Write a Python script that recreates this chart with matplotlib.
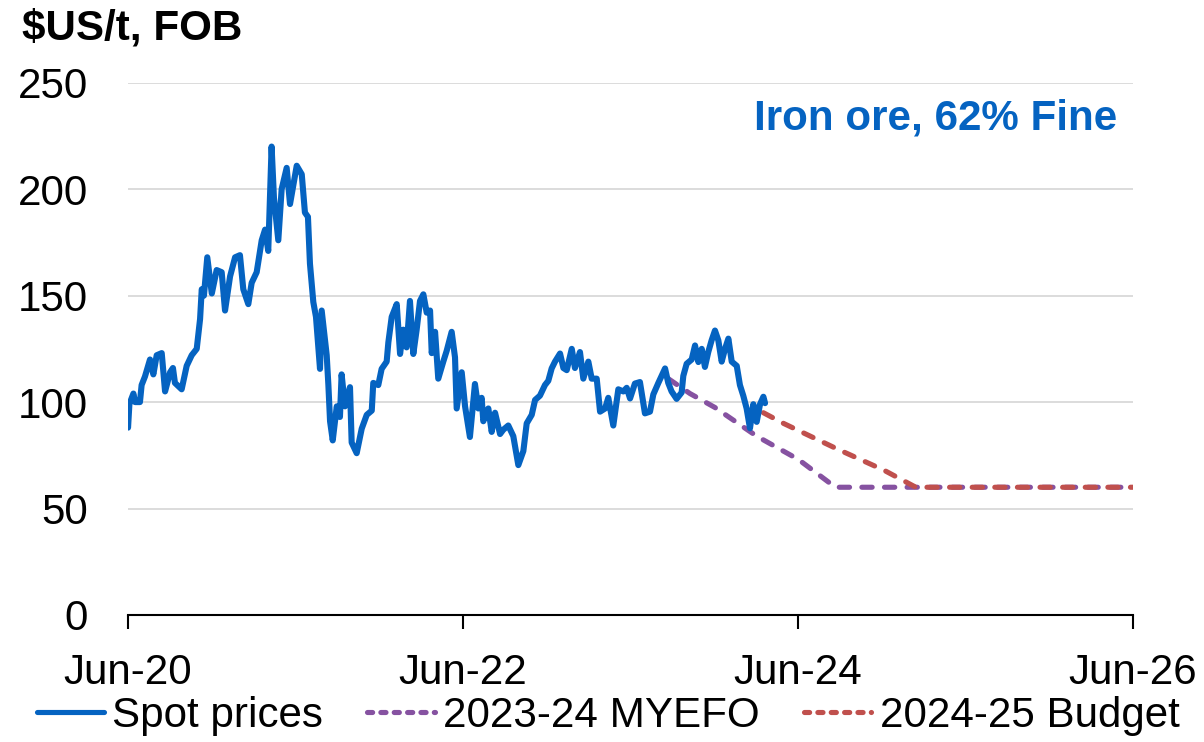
import matplotlib
matplotlib.use("Agg")
import matplotlib.pyplot as plt
from matplotlib.lines import Line2D

plt.rcParams['font.family'] = ['Liberation Sans', 'DejaVu Sans']

# ---- data (x in decimal years) ----
spot_t = [2020.417, 2020.425, 2020.449, 2020.459, 2020.488, 2020.498, 2020.518, 2020.548, 2020.568, 2020.588,
          2020.618, 2020.638, 2020.668, 2020.685, 2020.697, 2020.737, 2020.767, 2020.797, 2020.827, 2020.847,
          2020.857, 2020.870, 2020.890, 2020.917, 2020.946, 2020.976, 2020.996, 2021.026, 2021.056, 2021.085,
          2021.105, 2021.135, 2021.155, 2021.185, 2021.215, 2021.235, 2021.254, 2021.274, 2021.288, 2021.314,
          2021.334, 2021.364, 2021.384, 2021.424, 2021.454, 2021.473, 2021.491, 2021.503, 2021.523, 2021.539,
          2021.563, 2021.573, 2021.603, 2021.613, 2021.623, 2021.639, 2021.663, 2021.682, 2021.692, 2021.712,
          2021.742, 2021.752, 2021.782, 2021.812, 2021.842, 2021.872, 2021.881, 2021.911, 2021.931, 2021.961,
          2021.971, 2021.991, 2022.021, 2022.041, 2022.060, 2022.080, 2022.100, 2022.120, 2022.140, 2022.160,
          2022.180, 2022.200, 2022.220, 2022.230, 2022.250, 2022.269, 2022.299, 2022.319, 2022.349, 2022.369,
          2022.379, 2022.409, 2022.429, 2022.458, 2022.488, 2022.508, 2022.528, 2022.538, 2022.568, 2022.588,
          2022.608, 2022.638, 2022.657, 2022.687, 2022.717, 2022.747, 2022.777, 2022.797, 2022.827, 2022.847,
          2022.876, 2022.906, 2022.926, 2022.946, 2022.966, 2022.996, 2023.016, 2023.036, 2023.066, 2023.085,
          2023.115, 2023.135, 2023.165, 2023.185, 2023.215, 2023.235, 2023.265, 2023.284, 2023.314, 2023.344,
          2023.374, 2023.394, 2023.414, 2023.443, 2023.473, 2023.503, 2023.533, 2023.553, 2023.583, 2023.623,
          2023.642, 2023.662, 2023.692, 2023.722, 2023.732, 2023.752, 2023.782, 2023.802, 2023.822, 2023.842,
          2023.861, 2023.881, 2023.901, 2023.921, 2023.941, 2023.961, 2023.981, 2024.001, 2024.021, 2024.051,
          2024.070, 2024.090, 2024.110, 2024.130, 2024.150, 2024.170, 2024.190, 2024.210, 2024.220]
spot_v = [88, 99, 104, 100, 100, 108, 112, 120, 113, 122,
          123, 105, 114, 116, 109, 106, 117, 122, 125, 139,
          153, 150, 168, 151, 162, 161, 143, 159, 168, 169,
          153, 146, 156, 161, 176, 181, 171, 220, 196, 176,
          200, 210, 193, 211, 207, 189, 187, 165, 147, 140,
          115.6, 143, 122, 108, 91, 82, 98, 93, 113, 98,
          107, 81, 76, 87.5, 94, 96, 109, 108, 115.6, 119,
          128, 140, 146, 122.6, 134, 125.7, 147.5, 122.6, 134, 147.5,
          150.6, 142, 143, 123, 133, 111, 119, 124, 133, 121,
          97, 114, 98, 83.6, 108.5, 97, 102, 91, 97, 86,
          95, 85, 87, 89, 84, 70.4, 77, 90, 94, 101,
          103, 108, 110, 115.8, 119, 122.8, 116, 115, 125, 116,
          123.5, 111, 119, 111, 111, 95.5, 97, 102, 89, 106,
          105, 106.7, 101.7, 108.7, 109.4, 94.7, 95.5, 103.6, 109, 115.8,
          109, 105, 101.5, 104.5, 112.3, 118, 120, 126.6, 118.8, 125,
          116.5, 123.5, 129, 133.6, 129, 119, 125, 129.8, 119, 117,
          108, 103, 97, 87.7, 99, 90.7, 99, 102.5, 99.5]

myefo_t = [2023.642, 2023.772, 2023.920, 2024.170, 2024.420, 2024.640, 2026.417]
myefo_v = [111, 104, 97.5, 84, 73, 60, 60]

budget_t = [2024.210, 2024.330, 2024.650, 2024.930, 2025.120, 2026.417]
budget_v = [95, 90, 78, 68, 60, 60]

xtick_pos = [2020.4167, 2022.4167, 2024.4167, 2026.4167]
xtick_labels = ['Jun-20', 'Jun-22', 'Jun-24', 'Jun-26']
ytick_vals = [0, 50, 100, 150, 200, 250]

series_names = ['Spot prices', '2023-24 MYEFO', '2024-25 Budget']
BLUE = '#0563C1'
PURPLE = '#8652A1'
RED = '#C0504D'
FS = 30.3

# ---- figure ----
fig = plt.figure(figsize=(12.04, 7.42), dpi=100)
ax = fig.add_axes([128/1204, 1-615/742, (1133-128)/1204, (615-82.7)/742])

lw_spot = 4.4
lw_dash = 3.7
dash = (2.0, 2.4)
ax.plot(spot_t, spot_v, color=BLUE, lw=lw_spot, solid_joinstyle='round',
        solid_capstyle='round', zorder=4)
ax.plot(myefo_t, myefo_v, color=PURPLE, lw=lw_dash, dashes=dash,
        dash_capstyle='round', zorder=3)
ax.plot(budget_t, budget_v, color=RED, lw=lw_dash, dashes=dash,
        dash_capstyle='round', zorder=3)

ax.set_xlim(xtick_pos[0], xtick_pos[-1])
ax.set_ylim(0, 250)
ax.set_yticks(ytick_vals)
ax.set_yticklabels([str(v) for v in ytick_vals])
ax.set_xticks(xtick_pos)
ax.set_xticklabels(xtick_labels)

ax.grid(axis='y', color='#D9D9D9', lw=1.3)
ax.set_axisbelow(True)
for s in ['top', 'right', 'left']:
    ax.spines[s].set_visible(False)
ax.spines['bottom'].set_color('black')
ax.spines['bottom'].set_linewidth(1.5)

ax.tick_params(axis='y', length=0, pad=29, labelsize=FS)
ax.tick_params(axis='x', direction='out', length=10, width=1.5, pad=17, labelsize=FS)

fig.text(22/1204, 1-28/742, '$US/t, FOB', fontsize=FS, fontweight='bold',
         ha='left', va='center')
fig.text(1117/1204, 1-118/742, 'Iron ore, 62% Fine',
         fontsize=FS, fontweight='bold', color=BLUE, ha='right', va='center')

handles = [Line2D([], [], color=BLUE, lw=lw_dash, solid_capstyle='round'),
           Line2D([], [], color=PURPLE, lw=lw_dash, dashes=(1.0, 1.6), dash_capstyle='round'),
           Line2D([], [], color=RED, lw=lw_dash, dashes=(1.0, 1.6), dash_capstyle='round')]
fig.legend(handles, series_names, loc='center', bbox_to_anchor=(0.505, 1-716/742),
           ncol=3, frameon=False, fontsize=FS, handlelength=1.6,
           handletextpad=0.2, columnspacing=1.05, borderaxespad=0, borderpad=0)

fig.savefig('out.png', dpi=100)
